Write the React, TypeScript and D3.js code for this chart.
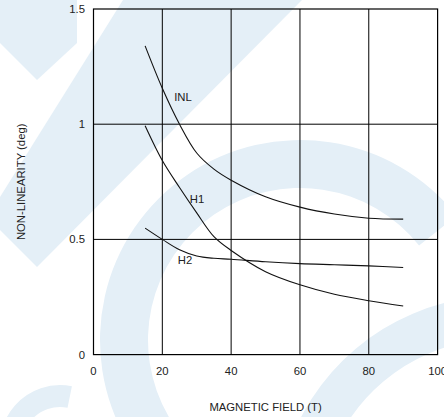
import React from "react";
import * as d3 from "d3";

const fieldT = [15, 20, 25, 30, 35, 40, 50, 60, 70, 80, 90];
const inlValues = [1.34, 1.156, 1.0, 0.875, 0.805, 0.757, 0.685, 0.64, 0.61, 0.592, 0.588];
const h1Values = [0.993, 0.842, 0.725, 0.615, 0.512, 0.452, 0.36, 0.303, 0.262, 0.234, 0.211];
const h2Values = [0.549, 0.5, 0.455, 0.428, 0.418, 0.414, 0.403, 0.395, 0.39, 0.385, 0.378];

const seriesNames = ["INL", "H1", "H2"];
const labelX = [26.0, 30.1, 26.6];
const labelY = [1.118, 0.675, 0.411];

const xTicks = [0, 20, 40, 60, 80, 100];
const yTicks = [0, 0.5, 1, 1.5];
const xTitle = "MAGNETIC FIELD (T)";
const yTitle = "NON-LINEARITY (deg)";

const W = 444;
const H = 417;
const FONT = "'Liberation Sans', Arial, Helvetica, sans-serif";
const WM = "#e4eff7";

export default function App() {
  const x = d3.scaleLinear().domain([0, 100]).range([93.5, 437.6]);
  const y = d3.scaleLinear().domain([0, 1.5]).range([354.6, 9]);

  const line = d3
    .line<number>()
    .x((_, i) => x(fieldT[i]))
    .y((d) => y(d))
    .curve(d3.curveCatmullRom.alpha(0.5));

  const series = [inlValues, h1Values, h2Values];

  const bigArc = d3.arc()({
    innerRadius: 152,
    outerRadius: 200,
    startAngle: -3.6,
    endAngle: 0.9,
  } as any) as string;
  const brArc = d3.arc()({
    innerRadius: 181,
    outerRadius: 224,
    startAngle: -2.2,
    endAngle: 0.2,
  } as any) as string;
  const smallArc = d3.arc()({
    innerRadius: 38,
    outerRadius: 60,
    startAngle: -1.9,
    endAngle: 0.2,
  } as any) as string;

  return (
    <svg
      width={W}
      height={H}
      style={{ position: "absolute", left: 0, top: 0, background: "#fff" }}
      fontFamily={FONT}
    >
      {/* watermark */}
      <g fill={WM}>
        <polygon points="0,0 77,0 77,43 37,80 0,43" />
        <polygon points="123,0 302,0 37,267 0,230 0,197" />
        <path d={bigArc} transform="translate(300,340)" />
        <path d={brArc} transform="translate(500,520)" />
        <path d={smallArc} transform="translate(60,445)" />
      </g>

      {/* grid */}
      <g stroke="#000" strokeWidth={1}>
        {xTicks.slice(1, -1).map((t) => (
          <line key={"gx" + t} x1={x(t)} x2={x(t)} y1={y(0)} y2={y(1.5)} />
        ))}
        {yTicks.slice(1, -1).map((t) => (
          <line key={"gy" + t} x1={x(0)} x2={x(100)} y1={y(t)} y2={y(t)} />
        ))}
      </g>
      <rect
        x={x(0)}
        y={y(1.5)}
        width={x(100) - x(0)}
        height={y(0) - y(1.5)}
        fill="none"
        stroke="#000"
        strokeWidth={1.2}
      />

      {/* curves */}
      {series.map((s, i) => (
        <path key={"s" + i} d={line(s) as string} fill="none" stroke="#111" strokeWidth={1.1} />
      ))}
      {seriesNames.map((n, i) => (
        <text
          key={"l" + n}
          x={x(labelX[i])}
          y={y(labelY[i])}
          dy="0.35em"
          textAnchor="middle"
          fontSize={11.3}
          fill="#222"
        >
          {n}
        </text>
      ))}

      {/* tick labels */}
      {yTicks.map((t) => (
        <text key={"ty" + t} x={85} y={y(t)} dy="0.35em" textAnchor="end" fontSize={11.3} fill="#222">
          {String(t)}
        </text>
      ))}
      {xTicks.map((t) => (
        <text key={"tx" + t} x={x(t)} y={371} dy="0.35em" textAnchor="middle" fontSize={11.3} fill="#222">
          {String(t)}
        </text>
      ))}

      <text x={x(50)} y={406.7} dy="0.35em" textAnchor="middle" fontSize={11.3} fill="#222">
        {xTitle}
      </text>
      <text
        transform={`translate(21,${y(0.75)}) rotate(-90)`}
        dy="0.35em"
        textAnchor="middle"
        fontSize={11.3}
        fill="#222"
      >
        {yTitle}
      </text>
    </svg>
  );
}
